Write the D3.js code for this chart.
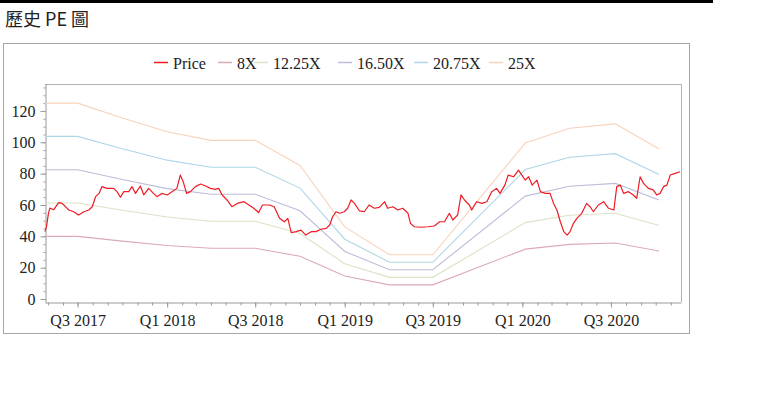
<!DOCTYPE html>
<html>
<head>
<meta charset="utf-8">
<script src="https://cdn.jsdelivr.net/npm/d3@7"></script>
<style>
  body { margin: 0; background: #fff; }
  .title { font-family: "Noto Sans CJK TC", "Noto Sans", sans-serif; font-size: 18px; fill: #222; }
  .legend text { font-family: "Liberation Serif", serif; font-size: 16px; fill: #222; }
  .axis text { font-family: "Liberation Serif", serif; font-size: 16px; fill: #222; }
  .axis path, .axis line { stroke: #9a9a9a; }
</style>
</head>
<body>
<div id="chart"></div>
<script>
// price series
var priceDates = [
  "2017-04-25","2017-04-28","2017-05-02","2017-05-05","2017-05-13","2017-05-23","2017-05-30","2017-06-06",
  "2017-06-13","2017-06-23","2017-07-03","2017-07-14","2017-07-24","2017-07-31","2017-08-07","2017-08-14",
  "2017-08-20","2017-08-30","2017-09-13","2017-09-20","2017-09-27","2017-10-04","2017-10-14","2017-10-21",
  "2017-10-28","2017-11-07","2017-11-14","2017-11-24","2017-12-04","2017-12-11","2017-12-21","2018-01-01",
  "2018-01-11","2018-01-21","2018-01-28","2018-02-03","2018-02-10","2018-02-18","2018-02-28","2018-03-11",
  "2018-03-21","2018-03-31","2018-04-10","2018-04-17","2018-04-24","2018-05-04","2018-05-14","2018-05-25",
  "2018-06-08","2018-06-18","2018-06-28","2018-07-08","2018-07-16","2018-07-30","2018-08-09","2018-08-20",
  "2018-08-30","2018-09-06","2018-09-13","2018-09-23","2018-10-03","2018-10-13","2018-10-24","2018-11-03",
  "2018-11-13","2018-11-24","2018-12-01","2018-12-07","2018-12-14","2018-12-21","2018-12-31","2019-01-07",
  "2019-01-14","2019-01-21","2019-01-31","2019-02-10","2019-02-20","2019-03-03","2019-03-13","2019-03-24",
  "2019-03-30","2019-04-10","2019-04-20","2019-04-30","2019-05-11","2019-05-16","2019-05-24","2019-06-07",
  "2019-06-21","2019-07-04","2019-07-15","2019-07-25","2019-08-04","2019-08-11","2019-08-21","2019-08-28",
  "2019-09-04","2019-09-14","2019-09-19","2019-09-29","2019-10-10","2019-10-20","2019-10-30","2019-11-09",
  "2019-11-16","2019-11-26","2019-12-03","2019-12-14","2019-12-24","2019-12-31","2020-01-07","2020-01-14",
  "2020-01-21","2020-01-31","2020-02-07","2020-02-17","2020-02-27","2020-03-05","2020-03-12","2020-03-19",
  "2020-03-26","2020-04-02","2020-04-08","2020-04-15","2020-04-22","2020-05-02","2020-05-12","2020-05-19",
  "2020-05-26","2020-06-05","2020-06-16","2020-06-26","2020-07-07","2020-07-13","2020-07-20","2020-07-27",
  "2020-08-06","2020-08-16","2020-08-23","2020-08-30","2020-09-06","2020-09-16","2020-09-26","2020-10-03",
  "2020-10-10","2020-10-17","2020-10-24","2020-10-31","2020-11-10","2020-11-20"
];
var priceValues = [
  43, 46, 54.5, 58, 57, 61.5, 61, 59,
  56.8, 55.7, 53.6, 55.7, 56.8, 58.9, 65.3, 67.4,
  71.7, 70.6, 70.6, 68.5, 64.9, 68.5, 68.5, 71.7,
  67.4, 72.1, 66.4, 70.6, 67.4, 65.3, 67.4, 66.4,
  68.5, 70.6, 79.1, 74.9, 67.4, 68.5, 71.7, 73.4,
  72.1, 70.6, 70, 70.6, 66.4, 63.2, 58.9, 61,
  62.1, 60, 57.9, 55.2, 60, 60, 58.9, 51.5,
  49.3, 51.5, 42.3, 43, 44, 40.8, 43, 43,
  44.5, 45.1, 47.2, 52.5, 55.7, 54.7, 55.7, 57.9,
  63.2, 61, 56.3, 55.7, 60, 57.9, 58.5, 62.1,
  57.9, 58.9, 56.8, 57.9, 54.7, 48.3, 46.1, 45.8,
  46.1, 46.6, 49.3, 49.3, 54.7, 50.4, 53.6, 66.4,
  63.2, 60, 56.8, 62.1, 61, 62.1, 68.5, 70.6,
  67.4, 72.7, 79.1, 78, 82.3, 79.1, 75.9, 78,
  72.7, 75.9, 68.5, 67.4, 67.4, 61, 56.8, 49.3,
  43, 40.8, 43, 48.3, 51.5, 54.7, 61, 58.9,
  55.7, 60, 62.1, 57.9, 56.8, 71.7, 72.7, 67.4,
  68.5, 66.4, 64.3, 78, 73.8, 70.6, 69.6, 66.4,
  67.4, 71.7, 72.7, 79.1, 80.2, 81.2
];

// PE band knots
var bandDates = [
  "2017-04-25","2017-07-01","2017-10-01","2018-01-01","2018-04-01","2018-07-01","2018-10-01",
  "2019-01-01","2019-04-03","2019-07-01","2020-01-07","2020-04-07","2020-07-10","2020-10-08"
];
var band8X    = [40, 40, 36.96, 34.16, 32.4, 32.4, 27.28, 14.72, 9.04, 9.04, 31.84, 34.88, 35.76, 30.64];
var band1225X = [61.25, 61.25, 56.6, 52.31, 49.61, 49.61, 41.77, 22.54, 13.84, 13.84, 48.76, 53.41, 54.76, 46.92];
var band1650X = [82.5, 82.5, 76.23, 70.46, 66.83, 66.83, 56.27, 30.36, 18.65, 18.65, 65.67, 71.94, 73.76, 63.2];
var band2075X = [103.75, 103.75, 95.87, 88.6, 84.04, 84.04, 70.76, 38.18, 23.45, 23.45, 82.59, 90.47, 92.75, 79.47];
var band25X   = [125, 125, 115.5, 106.75, 101.25, 101.25, 85.25, 46, 28.25, 28.25, 99.5, 109, 111.75, 95.75];

var seriesNames = ["Price", "8X", "12.25X", "16.50X", "20.75X", "25X"];
var yTicks = [0, 20, 40, 60, 80, 100, 120];

var colors = ["#ee1c25", "#dcaab4", "#dde2c6", "#bcbdd9", "#b0d6e8", "#f8d2bb"];

var width = 759;
var height = 397;

var parseDate = d3.timeParse("%Y-%m-%d");

var svg = d3
  .select("#chart")
  .append("svg")
  .attr("width", width)
  .attr("height", height);

svg.append("rect").attr("width", width).attr("height", height).attr("fill", "#fff");

// black rule on top and title
svg.append("rect").attr("x", 0).attr("y", 0).attr("width", 713).attr("height", 3).attr("fill", "#000");
svg.append("text").attr("class", "title").attr("x", 5).attr("y", 26).text("歷史 PE 圖");

// outer chart box
svg.append("rect")
  .attr("x", 3.5).attr("y", 43.5)
  .attr("width", 686).attr("height", 290)
  .attr("fill", "none")
  .attr("stroke", "#a6a6a6");

// plot area
var plotLeft = 45, plotRight = 681, plotTop = 84, plotBottom = 302;

var xScale = d3
  .scaleTime()
  .domain([parseDate("2017-04-25"), parseDate("2020-11-22")])
  .range([plotLeft, plotRight]);

var yScale = d3
  .scaleLinear()
  .domain([-1.9, 137.2])
  .range([plotBottom, plotTop]);

// inner frame (top and right)
svg.append("path")
  .attr("d", "M" + plotLeft + "," + (plotTop + 0.5) + "H" + (plotRight + 0.5) + "V" + plotBottom)
  .attr("fill", "none")
  .attr("stroke", "#b0b0b0");

// minor ticks
svg.append("g")
  .attr("class", "axis")
  .attr("transform", "translate(" + (plotLeft + 0.5) + ",0)")
  .call(d3.axisLeft(yScale).tickValues(d3.range(0, 136, 5)).tickSize(2).tickFormat(""))
  .select(".domain").remove();

svg.append("g")
  .attr("class", "axis")
  .attr("transform", "translate(0," + (plotBottom + 0.5) + ")")
  .call(d3.axisBottom(xScale).ticks(d3.timeMonth.every(1)).tickSize(3).tickFormat(""))
  .select(".domain").remove();

// main axes
var yAxis = d3.axisLeft(yScale).tickValues(yTicks).tickSize(5).tickPadding(5).tickSizeOuter(0);
svg.append("g")
  .attr("class", "axis")
  .attr("transform", "translate(" + (plotLeft + 0.5) + ",0)")
  .call(yAxis);

var xAxis = d3
  .axisBottom(xScale)
  .ticks(d3.timeMonth.every(6))
  .tickSize(5)
  .tickPadding(7)
  .tickSizeOuter(0)
  .tickFormat(function(d) {
    return "Q" + (Math.floor(d.getMonth() / 3) + 1) + " " + d.getFullYear();
  });
svg.append("g")
  .attr("class", "axis")
  .attr("transform", "translate(0," + (plotBottom + 0.5) + ")")
  .call(xAxis);

// lines
var line = d3.line()
  .x(function(d) { return xScale(d.date); })
  .y(function(d) { return yScale(d.value); });

function pairs(dates, values) {
  return dates.map(function(d, i) {
    return { date: parseDate(d), value: values[i] };
  });
}

var bands = [band8X, band1225X, band1650X, band2075X, band25X];

bands.forEach(function(b, i) {
  svg.append("path")
    .datum(pairs(bandDates, b))
    .attr("d", line)
    .attr("fill", "none")
    .attr("stroke", colors[i + 1])
    .attr("stroke-width", 1.1);
});

svg.append("path")
  .datum(pairs(priceDates, priceValues))
  .attr("d", line)
  .attr("fill", "none")
  .attr("stroke", colors[0])
  .attr("stroke-width", 1.2)
  .attr("stroke-linejoin", "round");

// legend (x of each label text)
var legendX = [173, 237, 273, 357, 433, 508];
var legend = svg.append("g").attr("class", "legend");
seriesNames.forEach(function(name, i) {
  legend.append("line")
    .attr("x1", legendX[i] - 19).attr("x2", legendX[i] - 5)
    .attr("y1", 62.5).attr("y2", 62.5)
    .attr("stroke", colors[i])
    .attr("stroke-width", 1.5);
  legend.append("text")
    .attr("x", legendX[i])
    .attr("y", 68.5)
    .text(name);
});
</script>
</body>
</html>
